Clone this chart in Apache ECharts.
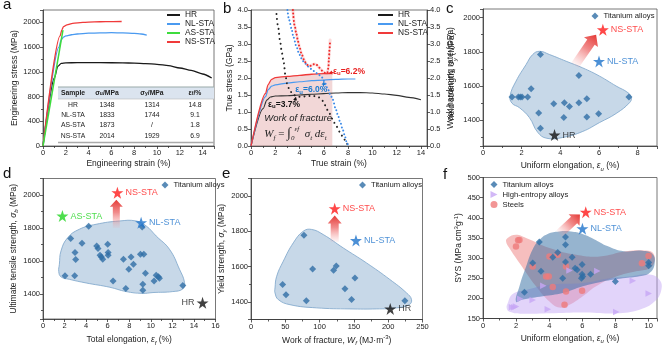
<!DOCTYPE html>
<html><head><meta charset="utf-8">
<script src="https://cdn.jsdelivr.net/npm/echarts@6/dist/echarts.min.js"></script>
<style>html,body{margin:0;padding:0;background:#fff}#c{width:662px;height:349px}</style>
</head><body><div id="c"></div>
<script>
// ---------------- DATA ----------------
// Panel a: engineering stress (MPa) vs engineering strain (%)
const engHR = [[0,0],[1.0,1100],[1.3,1290],[1.6,1335],[2,1345],[3,1348],[5,1348],[7,1345],[8,1340],[9,1333],[10,1322],[11,1300],[12,1262],[13,1222],[14,1165],[14.8,1100]];
const engNL = [[0,0],[1.4,1600],[1.6,1720],[1.8,1762],[2,1782],[2.5,1800],[3,1812],[4,1825],[5,1830],[6,1833],[7,1830],[8,1822],[8.6,1812],[9.1,1795]];
const engAS = [[0,0],[1.75,1873]];
const engNS = [[0,0],[1.5,1780],[1.65,1880],[1.8,1930],[2.1,1960],[2.6,1985],[3.5,2000],[4.5,2008],[5.5,2012],[6.9,2014]];
const tableHeader = ['Sample','σu/MPa','σy/MPa','εf/%'];
const tableSamples = ['HR','NL-STA','AS-STA','NS-STA'];
const tableSigmaU = ['1348','1833','1873','2014'];
const tableSigmaY = ['1314','1744','/','1929'];
const tableEf = ['14.8','9.1','1.8','6.9'];

// Panel b: true stress (GPa) and work hardening rate (GPa) vs true strain (%)
const trueHR = [[0,0],[1.0,1.1],[1.3,1.35],[1.6,1.44],[2,1.47],[3,1.48],[4,1.5],[5,1.52],[6,1.54],[7,1.56],[8,1.57],[9,1.57],[10,1.56],[11,1.53],[12,1.49],[13,1.43],[14,1.36]];
const trueNL = [[0,0],[1.2,1.45],[1.4,1.65],[1.7,1.76],[2,1.8],[3,1.85],[4,1.89],[5,1.92],[6,1.94],[7,1.96],[8,1.97],[8.6,1.97]];
const trueNS = [[0,0],[1.2,1.55],[1.4,1.8],[1.7,1.96],[2,2.01],[3,2.05],[4,2.08],[5,2.11],[6,2.13],[6.7,2.14]];
const whrHR = [[2.1,3.88],[2.25,3.47],[2.4,3.07],[2.55,2.73],[2.7,2.44],[2.85,2.04],[3.0,1.8],[3.2,1.62],[3.5,1.5],[4.0,1.45],[4.5,1.46],[5.0,1.48],[5.5,1.45],[5.8,1.38],[6.1,1.2],[6.4,1.0],[6.7,0.8],[7.0,0.6],[7.3,0.42],[7.6,0.25],[7.85,0.1],[8.0,0.0]];
const whrNL = [[3.0,4.0],[3.15,3.7],[3.33,3.46],[3.5,3.2],[3.74,2.93],[3.95,2.72],[4.15,2.58],[4.4,2.45],[4.7,2.34],[5.0,2.26],[5.25,2.19],[5.5,2.12],[5.8,2.04],[6.05,1.9],[6.3,1.7],[6.55,1.5],[6.75,1.36],[6.95,1.12],[7.16,0.91],[7.35,0.7],[7.57,0.47],[7.75,0.27],[7.9,0.08],[8.05,0.0]];
const whrNS = [[3.45,4.0],[3.6,3.52],[3.75,3.28],[3.88,3.07],[4.0,2.9],[4.15,2.73],[4.35,2.55],[4.56,2.41],[4.75,2.35],[4.95,2.36],[5.1,2.4],[5.25,2.41],[5.4,2.39],[5.57,2.33],[5.75,2.25],[5.93,2.19],[6.1,2.15],[6.28,2.14],[6.38,2.3],[6.42,2.58],[6.47,2.85],[6.52,3.12]];

// Panel c: yield strength vs uniform elongation
const tiC_x = [1.5,1.83,1.93,2.02,2.31,2.49,2.97,2.88,2.97,3.66,4.21,4.18,4.47,4.96,4.96,5.37,5.37,5.98,7.55];
const tiC_y = [1536,1536,1536,1536,1536,1585,1784,1443,1354,1497,1503,1416,1480,1503,1662,1526,1420,1439,1536];
const starC_names = ['HR','NL-STA','NS-STA'];
const starC_x = [3.7,6.0,6.2];
const starC_y = [1314,1744,1929];
const blobC = [[2.92,1803],[3.44,1784],[4.3,1745],[5.16,1706],[6.03,1658],[6.89,1600],[7.5,1561],[7.67,1532],[7.58,1503],[6.89,1440],[6.03,1387],[5.16,1335],[4.13,1300],[3.3,1295],[2.83,1330],[2.4,1416],[1.88,1474],[1.5,1500],[1.4,1542],[1.71,1629],[2.23,1726],[2.57,1784]];
const arrowC = [[4.75,1720],[5.85,1900]];

// Panel d: UTS vs total elongation
const tiD_x = [2.04,2.57,2.97,3.03,2.94,3.62,4.24,4.98,5.1,5.29,5.42,5.54,6.0,6.04,6.04,6.5,7.46,7.68,7.96,8.17,8.39,9.04,9.35,9.2,9.5,9.26,9.26,10.3,10.5,10.7,10.8,12.97];
const tiD_y = [1511,1737,1652,1610,1511,1708,1811,1692,1676,1635,1625,1611,1702,1652,1635,1480,1611,1434,1551,1625,1581,1641,1641,1807,1527,1460,1424,1480,1515,1505,1497,1452];
const starD_names = ['AS-STA','NS-STA','NL-STA','HR'];
const starD_x = [1.8,6.9,9.1,14.8];
const starD_y = [1873,2014,1833,1348];
const blobD = [[1.52,1581],[1.67,1662],[2.29,1742],[3.37,1793],[4.92,1823],[7.09,1843],[8.64,1843],[9.57,1813],[10.5,1752],[11.73,1672],[12.66,1551],[13.13,1470],[12.97,1432],[12.04,1416],[10.2,1410],[9.2,1405],[7.7,1416],[6.2,1442],[4.0,1468],[2.45,1490],[1.67,1505],[1.46,1538]];
const arrowD = [[6.8,1800],[6.8,1972]];

// Panel e: yield strength vs work of fracture
const tiE_x = [77.2,89.8,120.4,124.3,151.5,46.1,51,80.6,136.9,146.6,224.3];
const tiE_y = [1778,1587,1580,1604,1536,1498,1441,1407,1474,1413,1407];
const starE_names = ['NS-STA','NL-STA','HR'];
const starE_x = [122,153,203];
const starE_y = [1929,1748,1360];
const blobE = [[35,1479],[37.4,1545],[47.1,1631],[61.7,1735],[76.2,1801],[88.3,1811],[105.3,1782],[134.5,1706],[168.4,1621],[202.4,1527],[226.7,1451],[234,1413],[230.6,1384],[212.1,1366],[183,1360],[144.2,1360],[95.6,1366],[56.8,1384],[39.8,1413],[35,1451]];
const arrowE = [[122,1740],[122,1890]];

// Panel f: specific yield strength vs uniform elongation
const tiF_x = [2.5,3.0,3.5,3.4,4.21,4.51,4.81,4.98,4.98,4.98,5.38,5.56,5.68,5.98,5.98,5.94,6.02,6.49,7.99,10.0,10.0];
const tiF_y = [215,288,267,340,302,314,250,290,333,352,302,275,271,284,260,250,254,260,242,289,281];
const heaF_x = [1.75,1.89,1.99,2.24,3.0,3.64,3.91,5.22,6.9,8.04,9.04,10.0];
const heaF_y = [178,178,180,199,196,231,173,269,268,166,244,212];
const steelF_x = [1.99,2.12,2.2,3.0,3.81,3.97,4.01,4.21,4.51,4.92,5.01,5.01,5.98,9.59,9.99];
const steelF_y = [329,344,345,279,254,254,304,228,308,184,279,217,219,287,305];
const starF_names = ['NS-STA','NL-STA'];
const starF_x = [6.2,6.0];
const starF_y = [414,373];
const blobF_ti = [[1.99,192],[2.2,230],[2.6,279],[3.0,322],[3.4,345],[3.9,360],[4.6,366],[5.3,366],[6.0,360],[6.7,347],[7.5,330],[8.5,317],[9.6,318],[10.25,309],[10.35,284],[10.05,263],[9.45,255],[8.44,250],[7.23,242],[6.02,230],[4.81,213],[3.61,205],[2.4,197]];
const blobF_steel = [[1.49,350],[1.99,358],[2.6,350],[4.01,325],[5.62,308],[7.03,304],[8.64,317],[9.85,319],[10.25,313],[10.35,292],[10.05,275],[9.24,267],[8.04,254],[6.83,230],[6.02,205],[5.22,184],[4.61,177],[4.01,192],[3.2,230],[2.2,288],[1.59,325],[1.39,342]];
const blobF_hea = [[1.49,188],[1.79,211],[2.6,221],[4.01,234],[6.02,238],[7.63,250],[8.84,254],[10.05,259],[10.65,246],[10.76,221],[10.35,192],[9.45,172],[8.04,163],[6.02,165],[4.01,163],[2.4,162],[1.59,167],[1.43,176]];
const arrowF = [[4.6,360],[5.85,408]];

// ---------------- STYLE / LAYOUT ----------------
const F = 'Arial, "Liberation Sans", sans-serif';
const SERIF = '"Liberation Serif", "DejaVu Serif", serif';
const C = {HR:'#1a1a1a', 'NL-STA':'#4a9af0', 'AS-STA':'#3ddc3d', 'NS-STA':'#f03a3a'};
const STARC = {HR:'#111111', 'NL-STA':'#1f74cc', 'NS-STA':'#ff1a1a', 'AS-STA':'#22d622'};
const TI = '#2f6ea5';
const STAR = 'path://M50,0 L61.8,35.3 L99,35.3 L68.8,57.1 L80.3,92.5 L50,70.7 L19.7,92.5 L31.2,57.1 L1,35.3 L38.2,35.3 Z';
const HEA = 'path://M0,0 L10,5 L0,10 Z';
const zip = (xs, ys) => xs.map((x, i) => [x, ys[i]]);

const grids = [
  {left:43, top:10, width:171, height:136},
  {left:251, top:10, width:176, height:136},
  {left:483, top:9, width:174, height:137},
  {left:43, top:178.5, width:172.5, height:140.5},
  {left:251, top:178.5, width:171.5, height:141},
  {left:483, top:177.5, width:174, height:141}
].map(g => Object.assign({show:true, borderColor:'#555', borderWidth:0.8, backgroundColor:'transparent'}, g));

const nameRich = {
  n:{fontSize:8.5, color:'#222', fontFamily:F, lineHeight:12},
  i:{fontSize:8.5, color:'#222', fontFamily:F, fontStyle:'italic', lineHeight:12},
  s:{fontSize:6, color:'#222', fontFamily:F, fontStyle:'italic', verticalAlign:'bottom', lineHeight:7},
  p:{fontSize:6, color:'#222', fontFamily:F, verticalAlign:'top', lineHeight:7}
};
function ax(o) {
  const lbl = Object.assign({fontSize:7.5, color:'#222', margin:3, fontFamily:F, formatter:v => String(v)}, o.label || {});
  const a = {
    type:'value', gridIndex:o.g, min:o.min, max:o.max, nameLocation:'middle', name:o.name, nameGap:o.gap,
    position:o.position,
    axisLine:{show:true, onZero:false, lineStyle:{color:'#333', width:0.8}},
    axisTick:{show:true, length:3, lineStyle:{color:'#333', width:0.8}},
    minorTick:{show:o.minor !== false, splitNumber:2, length:2, lineStyle:{color:'#333', width:0.8}},
    axisLabel:lbl, splitLine:{show:false}, minorSplitLine:{show:false},
    nameTextStyle:{fontSize:8.5, color:'#222', fontFamily:F, rich:nameRich}
  };
  if (o.interval !== undefined) a.interval = o.interval;
  if (o.splitNumber) a.splitNumber = o.splitNumber;
  if (o.nameRotate !== undefined) a.nameRotate = o.nameRotate;
  return a;
}
const xAxes = [
  ax({g:0, min:0, max:15, interval:2, name:'Engineering strain (%)', gap:13, label:{showMaxLabel:false}}),
  ax({g:1, min:0, max:14.5, interval:2, name:'True strain (%)', gap:13, label:{showMaxLabel:false}}),
  ax({g:2, min:0, max:9, interval:2, name:'{n|Uniform elongation, }{i|ε}{s|u}{n| (%)}', gap:14, label:{showMaxLabel:false}}),
  ax({g:3, min:0, max:16, interval:2, name:'{n|Total elongation, }{i|ε}{s|f}{n| (%)}', gap:15}),
  ax({g:4, min:0, max:250, interval:50, name:'{n|Work of fracture, }{i|W}{s|f}{n| (MJ·m}{p|-3}{n|)}', gap:15}),
  ax({g:5, min:0, max:10.5, interval:2, name:'{n|Uniform elongation, }{i|ε}{s|u}{n| (%)}', gap:14, label:{showMaxLabel:false}})
];
const f1 = v => v.toFixed(1);
const yAxes = [
  ax({g:0, min:0, max:2200, interval:400, name:'Engineering stress (MPa)', gap:22, label:{showMaxLabel:false}}),
  ax({g:1, min:0, max:4, interval:0.5, name:'True stress (GPa)', gap:15, minor:false, label:{formatter:f1}}),
  ax({g:1, min:0, max:4, interval:0.5, name:'Work hardening rate (GPa)', gap:19, minor:false, position:'right', nameRotate:90, label:{formatter:f1}}),
  ax({g:2, min:1250, max:2050, splitNumber:4, name:'{n|Yield strength, }{i|σ}{s|y}{n| (MPa)}', gap:25, label:{showMinLabel:false, showMaxLabel:false}}),
  ax({g:3, min:1250, max:2100, splitNumber:4, name:'{n|Ultimate tensile strength, }{i|σ}{s|b}{n| (MPa)}', gap:21, label:{showMinLabel:false, showMaxLabel:false}}),
  ax({g:4, min:1300, max:2100, splitNumber:4, name:'{n|Yield strength, }{i|σ}{s|y}{n| (MPa)}', gap:19, label:{showMinLabel:false, showMaxLabel:false}}),
  ax({g:5, min:150, max:500, interval:50, name:'{n|SYS (MPa cm}{p|3}{n|g}{p|-1}{n|)}', gap:18, minor:false})
];

function lineS(name, data, xi, yi, color, width, extra) {
  return Object.assign({type:'line', name, data, xAxisIndex:xi, yAxisIndex:yi, symbol:'none', showSymbol:false,
    smooth:0.25, smoothMonotone:'x', lineStyle:{color, width}, itemStyle:{color}, z:3, animation:false}, extra || {});
}
function dotS(name, data, color, dash, width) {
  return lineS(name, data, 1, 2, color, width, {smooth:0.3, lineStyle:{color, width, type:dash, cap:'round'}, z:4});
}
function tiS(xi, yi, xs, ys) {
  return {type:'scatter', name:'Titanium alloys', xAxisIndex:xi, yAxisIndex:yi, data:zip(xs, ys), symbol:'diamond', symbolSize:7,
    itemStyle:{color:TI}, z:4, animation:false};
}
function starS(xi, yi, names, xs, ys, pos) {
  return {type:'scatter', name:'stars' + xi, xAxisIndex:xi, yAxisIndex:yi, symbol:STAR, symbolSize:12, z:6, animation:false,
    data:names.map((n, i) => ({name:n, value:[xs[i], ys[i]], itemStyle:{color:STARC[n]},
      label:{show:true, position:(pos && pos[n]) || 'right', distance:2, color:STARC[n], fontSize:9, fontFamily:F, formatter:'{b}'}}))};
}
function blobS(xi, yi, pts, fill, stroke) {
  return {type:'custom', name:'blob', xAxisIndex:xi, yAxisIndex:yi, silent:true, z:1, animation:false, data:[pts[0]],
    renderItem:(p, api) => ({type:'polygon', shape:{points:pts.map(q => api.coord(q)), smooth:0.45},
      style:{fill, stroke:stroke || 'none', lineWidth:0.8}})};
}
function arrowS(xi, yi, arr, bw, hw, hl) {
  return {type:'custom', name:'arrow', xAxisIndex:xi, yAxisIndex:yi, silent:true, z:3, animation:false, data:[arr[0]],
    renderItem:(p, api) => {
      const p0 = api.coord(arr[0]), p1 = api.coord(arr[1]);
      const dx = p1[0]-p0[0], dy = p1[1]-p0[1], L = Math.hypot(dx, dy), ux = dx/L, uy = dy/L, nx = -uy, ny = ux;
      const bx = p1[0]-ux*hl, by = p1[1]-uy*hl;
      const pts = [[p0[0]+nx*bw,p0[1]+ny*bw],[bx+nx*bw,by+ny*bw],[bx+nx*hw,by+ny*hw],[p1[0],p1[1]],[bx-nx*hw,by-ny*hw],[bx-nx*bw,by-ny*bw],[p0[0]-nx*bw,p0[1]-ny*bw]];
      return {type:'polygon', shape:{points:pts}, style:{fill:new echarts.graphic.LinearGradient(p0[0],p0[1],p1[0],p1[1],
        [{offset:0,color:'rgba(245,150,150,0.08)'},{offset:0.55,color:'rgba(235,90,90,0.7)'},{offset:1,color:'#e53935'}], true)}};
    }};
}

const series = [
  // a
  lineS('HR', engHR, 0, 0, C.HR, 1.3),
  lineS('NL-STA', engNL, 0, 0, C['NL-STA'], 1.3),
  lineS('NS-STA', engNS, 0, 0, C['NS-STA'], 1.3),
  lineS('AS-STA', engAS, 0, 0, C['AS-STA'], 1.5, {smooth:false}),
  // b
  lineS('NS-area', trueNS, 1, 1, 'rgba(0,0,0,0)', 0, {areaStyle:{color:'rgba(214,130,130,0.45)'}, z:1}),
  lineS('HR', trueHR, 1, 1, '#333', 1.1),
  lineS('NL-STA', trueNL, 1, 1, C['NL-STA'], 1.2),
  lineS('NS-STA', trueNS, 1, 1, C['NS-STA'], 1.3),
  dotS('whr-NS-band', whrNS, 'rgba(240,80,80,0.2)', 'solid', 3),
  dotS('whr-HR', whrHR, '#222', [0.01, 5], 2),
  dotS('whr-NL', whrNL, '#3b8ae8', [0.01, 3.6], 2),
  dotS('whr-NS', whrNS, '#ee2a2a', [0.01, 3.6], 2),
  // c
  blobS(2, 3, blobC, 'rgba(130,168,205,0.45)', '#7aa3c9'),
  arrowS(2, 3, arrowC, 4.5, 8.5, 9),
  tiS(2, 3, tiC_x, tiC_y),
  starS(2, 3, starC_names, starC_x, starC_y),
  // d
  blobS(3, 4, blobD, 'rgba(130,168,205,0.45)', '#7aa3c9'),
  arrowS(3, 4, arrowD, 3.5, 6.5, 7),
  tiS(3, 4, tiD_x, tiD_y),
  starS(3, 4, starD_names, starD_x, starD_y, {HR:'left'}),
  // e
  blobS(4, 5, blobE, 'rgba(130,168,205,0.45)', '#7aa3c9'),
  arrowS(4, 5, arrowE, 4, 7, 8),
  tiS(4, 5, tiE_x, tiE_y),
  starS(4, 5, starE_names, starE_x, starE_y),
  // f
  blobS(5, 6, blobF_steel, 'rgba(236,110,110,0.45)'),
  blobS(5, 6, blobF_hea, 'rgba(190,160,245,0.45)'),
  blobS(5, 6, blobF_ti, 'rgba(45,105,160,0.5)'),
  arrowS(5, 6, arrowF, 4.5, 8, 8),
  {type:'scatter', name:'Steels', xAxisIndex:5, yAxisIndex:6, data:zip(steelF_x, steelF_y), symbol:'circle', symbolSize:6.5, itemStyle:{color:'#ef7b7b'}, z:4, animation:false},
  {type:'scatter', name:'High-entropy alloys', xAxisIndex:5, yAxisIndex:6, data:zip(heaF_x, heaF_y), symbol:HEA, symbolSize:6.5, itemStyle:{color:'#c7a6f5'}, z:4, animation:false},
  tiS(5, 6, tiF_x, tiF_y),
  starS(5, 6, starF_names, starF_x, starF_y)
];

const legTxt = {fontSize:8.4, color:'#222', fontFamily:F};
const legTi = {fontSize:7.7, color:'#222', fontFamily:F};
const legends = [
  {left:167, top:10.5, orient:'vertical', icon:'rect', itemGap:0, itemWidth:13, itemHeight:2, padding:0, selectedMode:false, data:['HR','NL-STA','AS-STA','NS-STA'], textStyle:Object.assign({lineHeight:9, height:9}, legTxt)},
  {left:378, top:10.5, orient:'vertical', icon:'rect', itemGap:0, itemWidth:15, itemHeight:2, padding:0, selectedMode:false, data:['HR','NL-STA','NS-STA'], textStyle:Object.assign({lineHeight:9, height:9}, legTxt)},
  {left:591.5, top:12, itemWidth:7, itemHeight:7, padding:0, selectedMode:false, data:['Titanium alloys'], textStyle:legTi},
  {left:161.5, top:181, itemWidth:7, itemHeight:7, padding:0, selectedMode:false, data:['Titanium alloys'], textStyle:legTi},
  {left:359, top:181, itemWidth:7, itemHeight:7, padding:0, selectedMode:false, data:['Titanium alloys'], textStyle:legTi},
  {left:490.5, top:180.5, orient:'vertical', itemGap:2, itemWidth:7, itemHeight:7, padding:0, selectedMode:false, data:['Titanium alloys','High-entropy alloys','Steels'], textStyle:legTi}
];

const chart = echarts.init(document.getElementById('c'), null, {renderer:'canvas', width:662, height:349});
chart.setOption({animation:false, backgroundColor:'#fff', grid:grids, xAxis:xAxes, yAxis:yAxes, legend:legends, series});

// ---------------- ANNOTATIONS ----------------
const g = [];
const letters = [['a',3,6.5],['b',223,10],['c',446,10],['d',3,175],['e',222,175.5],['f',443,176]];
letters.forEach(([t, x, y]) => g.push({type:'text', left:x, top:y - 9, style:{text:t, font:'15px ' + F, fill:'#111'}}));

// table in panel a
const tabX = [73, 107, 152, 195];
const tabRowY = [105, 115.5, 125.5, 136];
g.push({type:'rect', shape:{x:58, y:87, width:156, height:12}, style:{fill:'#dbe4ef'}, z:5});
g.push({type:'line', shape:{x1:58, y1:87, x2:214, y2:87}, style:{stroke:'#9aa', lineWidth:1.2}, z:5});
g.push({type:'line', shape:{x1:58, y1:99, x2:214, y2:99}, style:{stroke:'#bbb', lineWidth:0.6}, z:5});
g.push({type:'line', shape:{x1:58, y1:142.5, x2:214, y2:142.5}, style:{stroke:'#aaa', lineWidth:1.6}, z:5});
const hdrRich = {h:{fontSize:6.8, fontWeight:'bold', fill:'#222', fontFamily:F}, hs:{fontSize:5, fontWeight:'bold', fill:'#222', fontFamily:F, verticalAlign:'bottom', lineHeight:6}};
const hdrTxt = ['{h|Sample}', '{h|σ}{hs|u}{h|/MPa}', '{h|σ}{hs|y}{h|/MPa}', '{h|ε}{hs|f}{h|/%}'];
hdrTxt.forEach((t, i) => g.push({type:'text', z:6, style:{text:t, x:tabX[i], y:93, align:'center', verticalAlign:'middle', rich:hdrRich}}));
const cols = [tableSamples, tableSigmaU, tableSigmaY, tableEf];
cols.forEach((col, ci) => col.forEach((v, ri) => g.push({type:'text', z:6, style:{text:v, x:tabX[ci], y:tabRowY[ri], align:'center', verticalAlign:'middle', font:'6.8px ' + F, fill:'#222'}})));

// panel b annotations
const P = (x, y) => chart.convertToPixel({xAxisIndex:1, yAxisIndex:1}, [x, y]);
const annRich = c => ({e:{fontSize:8.5, fontWeight:'bold', fill:c, fontFamily:F, lineHeight:11}, s:{fontSize:6, fontWeight:'bold', fill:c, fontFamily:F, verticalAlign:'bottom', lineHeight:6}});
const ann = [['{e|ε}{s|u}{e|=6.2%}', 6.75, 2.2, '#e82020'], ['{e|ε}{s|u}{e|=6.0%}', 3.65, 1.66, '#1a7ad0'], ['{e|ε}{s|u}{e|=3.7%}', 1.4, 1.23, '#111']];
ann.forEach(([t, x, y, c]) => { const p = P(x, y); g.push({type:'text', z:8, style:{text:t, x:p[0], y:p[1], verticalAlign:'middle', rich:annRich(c)}}); });
const arrows = [[[6.8, 2.17], [6.4, 2.14], '#e82020'], [[5.95, 1.74], [6.02, 1.9], '#1a7ad0'], [[3.6, 1.3], [3.7, 1.45], '#111']];
arrows.forEach(([a, b, c]) => {
  const p0 = P(a[0], a[1]), p1 = P(b[0], b[1]);
  const dx = p1[0]-p0[0], dy = p1[1]-p0[1], L = Math.hypot(dx, dy), ux = dx/L, uy = dy/L;
  g.push({type:'line', z:8, shape:{x1:p0[0], y1:p0[1], x2:p1[0]-ux*2, y2:p1[1]-uy*2}, style:{stroke:c, lineWidth:1}});
  g.push({type:'polygon', z:8, shape:{points:[[p1[0], p1[1]], [p1[0]-ux*3.5-uy*2, p1[1]-uy*3.5+ux*2], [p1[0]-ux*3.5+uy*2, p1[1]-uy*3.5-ux*2]]}, style:{fill:c}});
});
const wp = P(1.1, 0.82);
g.push({type:'text', z:8, style:{text:'Work of fracture', x:wp[0], y:wp[1], verticalAlign:'middle', font:'italic 9.5px ' + F, fill:'#222'}});
const fp = P(1.1, 0.36);
const fRich = {
  w:{fontSize:11, fontStyle:'italic', fontFamily:SERIF, fill:'#222', lineHeight:16},
  n:{fontSize:11, fontFamily:SERIF, fill:'#222', lineHeight:16},
  int:{fontSize:14, fontFamily:SERIF, fill:'#222', lineHeight:16},
  sb:{fontSize:7, fontStyle:'italic', fontFamily:SERIF, fill:'#222', verticalAlign:'bottom', lineHeight:8},
  sp:{fontSize:7, fontStyle:'italic', fontFamily:SERIF, fill:'#222', verticalAlign:'top', lineHeight:8}
};
g.push({type:'text', z:8, style:{text:'{w|W}{sb|f}{n| = }{int|∫}{sb|0}{sp|εf}{n|  }{w|σ}{sb|t}{n| }{w|dε}{sb|t}', x:fp[0], y:fp[1], verticalAlign:'middle', rich:fRich}});

chart.setOption({graphic:g});
</script></body></html>
